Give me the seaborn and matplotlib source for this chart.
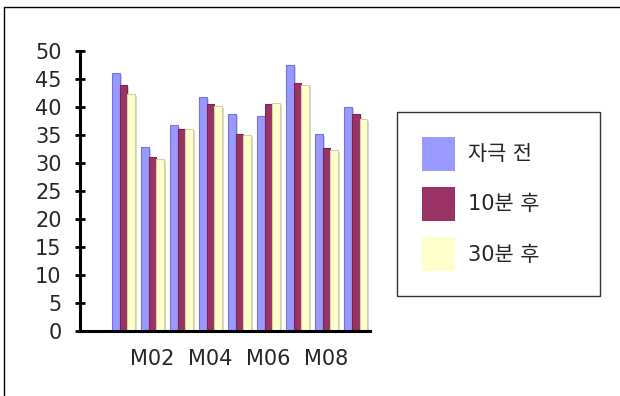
import matplotlib
matplotlib.use("Agg")
import matplotlib.pyplot as plt
import matplotlib.patheffects as pe
from matplotlib.lines import Line2D
from matplotlib.patches import Patch
import pandas as pd
import seaborn as sns

months = ["M01", "M02", "M03", "M04", "M05", "M06", "M07", "M08", "M09"]
before = [46.0, 32.8, 36.7, 41.7, 38.7, 38.4, 47.4, 35.2, 39.9]
after_10 = [43.9, 31.0, 36.1, 40.5, 35.2, 40.5, 44.2, 32.6, 38.7]
after_30 = [42.3, 30.6, 36.0, 40.2, 34.9, 40.7, 43.9, 32.2, 37.8]
series_names = ["자극 전", "10분 후", "30분 후"]
tick_labels = ["M02", "M04", "M06", "M08"]
y_ticks = [0, 5, 10, 15, 20, 25, 30, 35, 40, 45, 50]

colors = ["#9999ff", "#993366", "#ffffcc"]
edge_colors = ["#7373e0", "#7a2350", "#d2d2a4"]

df = pd.DataFrame({
    "month": months * 3,
    "value": before + after_10 + after_30,
    "series": [s for s in series_names for _ in months],
})

sns.set_style("white")
plt.rcParams["font.family"] = ["DejaVu Sans", "Noto Sans CJK KR"]

fig = plt.figure(figsize=(6.2, 3.96), dpi=100)
ax = fig.add_axes([0.129, 0.165, 0.468, 0.707])

sns.barplot(data=df, x="month", y="value", hue="series", order=months,
            hue_order=series_names, palette=colors, saturation=1,
            width=0.8, legend=False, ax=ax)

shadow = [pe.SimplePatchShadow(offset=(1.5, -1.5), shadow_rgbFace="#d8d8d8", alpha=1),
          pe.Normal()]
for cont, ec in zip(ax.containers, edge_colors):
    for bar in cont:
        bar.set_edgecolor(ec)
        bar.set_linewidth(0.8)
        bar.set_path_effects(shadow)

ax.set_xlim(-1.5, 8.5)
ax.set_ylim(0, 50)
ax.set_yticks(y_ticks)
ax.set_xticks([months.index(t) for t in tick_labels])
ax.set_xticklabels(tick_labels)
ax.set_xlabel("")
ax.set_ylabel("")

for side in ["top", "right"]:
    ax.spines[side].set_visible(False)
for side in ["left", "bottom"]:
    ax.spines[side].set_linewidth(2.2)
    ax.spines[side].set_color("black")

ax.tick_params(axis="y", direction="inout", length=6.5, width=2, color="black",
               labelsize=15, pad=10, left=True)
ax.tick_params(axis="x", length=0, labelsize=15, pad=13)
ax.grid(False)

handles = [Patch(facecolor=c, edgecolor="none") for c in colors]
leg = fig.legend(handles, series_names, loc="upper left",
                 bbox_to_anchor=(0.640, 0.718, 0.328, 0), mode="expand",
                 fontsize=15, handlelength=1.6, handleheight=2.14,
                 labelspacing=0.77, borderpad=1.2, handletextpad=0.6,
                 borderaxespad=0, frameon=True, fancybox=False)
leg.get_frame().set_edgecolor("black")
leg.get_frame().set_linewidth(1)

# thin frame lines on top and left of the picture
fig.add_artist(Line2D([4 / 620, 1], [1 - 7 / 396, 1 - 7 / 396], color="black", lw=1))
fig.add_artist(Line2D([4 / 620, 4 / 620], [0, 1 - 7 / 396], color="black", lw=1))

fig.savefig("out.png", dpi=100)
